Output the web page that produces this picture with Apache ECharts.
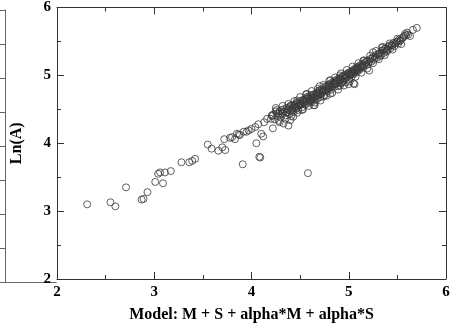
<!DOCTYPE html>
<html>
<head>
<meta charset="utf-8">
<script src="https://cdn.jsdelivr.net/npm/echarts@6/dist/echarts.min.js"></script>
<style>
html,body{margin:0;padding:0;background:#fff;}
#chart{width:457px;height:330px;}
</style>
</head>
<body>
<div id="chart"></div>
<script>
// 散点 Model vs Ln(A)
var xTicks = [2, 3, 4, 5, 6];
var yTicks = [2, 3, 4, 5, 6];

// sparse low end + outliers
var modelLow = [2.31,2.55,2.60,2.71,2.87,2.89,2.93,3.01,3.04,3.06,3.09,3.11,3.17,3.28,3.36,3.39,3.42,3.55,3.59,3.66,3.70,3.72,3.73,3.78,3.80,3.83,3.85,3.87,3.88,3.91,3.92,3.95,3.97,4.00,4.04,4.05,4.07,4.08,4.09,4.10,4.12,4.13,4.16,4.21,4.22,4.26,4.31,4.33,4.38,4.40,4.41,4.47,4.58,4.64];
var lnALow   = [3.10,3.13,3.07,3.35,3.17,3.18,3.28,3.43,3.55,3.57,3.41,3.57,3.59,3.72,3.72,3.74,3.77,3.98,3.92,3.89,3.94,4.06,3.90,4.08,4.09,4.06,4.14,4.13,4.12,3.69,4.17,4.17,4.19,4.21,4.24,4.00,4.28,3.80,3.79,4.14,4.10,4.31,4.36,4.41,4.22,4.49,4.44,4.29,4.26,4.34,4.56,4.63,3.56,4.56];

// dense band
var modelBand = [4.20,4.22,4.24,4.25,4.27,4.28,4.30,4.31,4.32,4.34,4.35,4.36,4.37,4.38,4.39,4.40,4.41,4.42,4.43,4.44,4.45,4.46,4.47,4.48,4.49,4.50,4.51,4.52,4.53,4.54,4.55,4.56,4.57,4.58,4.59,4.60,4.61,4.62,4.63,4.64,4.65,4.66,4.67,4.68,4.69,4.70,4.71,4.72,4.73,4.74,4.75,4.76,4.77,4.78,4.79,4.80,4.81,4.82,4.83,4.84,4.85,4.86,4.87,4.88,4.89,4.90,4.91,4.92,4.93,4.94,4.95,4.96,4.97,4.98,4.99,5.00,5.01,5.02,5.03,5.04,5.05,5.06,5.07,5.08,5.09,5.10,5.11,5.12,5.13,5.14,5.15,5.17,5.18,5.19,5.20,5.22,5.23,5.25,5.26,5.28,5.29,5.31,5.33,5.34,5.36,5.37,5.39,5.41,5.43,5.45,5.47,5.49,5.51,5.52,5.55,5.57,
  4.21,4.26,4.29,4.33,4.36,4.39,4.42,4.44,4.46,4.48,4.50,4.52,4.54,4.56,4.58,4.60,4.62,4.64,4.66,4.68,4.70,4.72,4.74,4.76,4.78,4.80,4.82,4.84,4.86,4.88,4.90,4.92,4.94,4.96,4.98,5.00,5.02,5.04,5.06,5.08,5.10,5.12,5.14,5.16,5.18,5.21,5.24,5.27,5.30,5.32,5.35,5.38,5.40,5.44,5.46,5.50,5.53,5.56,5.58];
var lnABand  = [4.36,4.42,4.35,4.47,4.40,4.44,4.38,4.49,4.43,4.47,4.41,4.52,4.46,4.50,4.43,4.55,4.49,4.52,4.46,4.57,4.51,4.54,4.60,4.49,4.56,4.62,4.58,4.53,4.64,4.60,4.57,4.66,4.62,4.59,4.69,4.65,4.70,4.63,4.67,4.72,4.68,4.64,4.74,4.70,4.77,4.72,4.68,4.79,4.75,4.81,4.71,4.78,4.83,4.76,4.86,4.81,4.88,4.79,4.85,4.90,4.83,4.92,4.87,4.94,4.84,4.90,4.96,4.88,4.98,4.92,4.95,5.01,4.90,4.97,5.03,4.94,5.00,5.05,4.98,5.07,5.02,5.09,5.04,5.11,5.06,5.13,5.08,5.15,5.11,5.17,5.12,5.19,5.15,5.22,5.17,5.24,5.20,5.27,5.23,5.30,5.26,5.32,5.29,5.36,5.33,5.39,5.35,5.42,5.40,5.45,5.43,5.49,5.47,5.53,5.55,5.58,
  4.40,4.44,4.47,4.50,4.45,4.53,4.48,4.53,4.58,4.55,4.56,4.61,4.64,4.61,4.66,4.61,4.71,4.67,4.73,4.66,4.78,4.73,4.77,4.84,4.80,4.86,4.83,4.87,4.89,4.91,4.94,4.95,4.99,4.96,5.01,5.04,5.01,5.03,5.06,5.08,5.10,5.12,5.14,5.16,5.20,5.21,5.25,5.27,5.31,5.33,5.37,5.40,5.38,5.44,5.48,5.50,5.51,5.56,5.61];

// outer part of the band
var modelWide = [4.25,4.28,4.32,4.35,4.38,4.41,4.44,4.47,4.50,4.53,4.56,4.59,4.62,4.65,4.68,4.71,4.74,4.77,4.80,4.83,4.86,4.89,4.92,4.95,4.98,5.01,5.04,5.07,5.10,5.13,5.16,5.19,5.22,5.25,5.28,5.31,5.34,5.37,5.42,5.45,5.50,5.54,5.60,5.63,
  4.43,4.49,4.55,4.61,4.67,4.73,4.79,4.85,4.91,4.97,5.03,5.09,4.46,4.57,4.69,4.81,4.93,5.05];
var lnAWide  = [4.52,4.33,4.55,4.36,4.58,4.40,4.62,4.45,4.68,4.50,4.72,4.55,4.77,4.60,4.80,4.63,4.86,4.70,4.92,4.74,4.97,4.79,5.03,4.85,5.08,4.91,5.13,4.98,5.18,5.04,5.22,5.10,5.29,5.18,5.36,5.24,5.41,5.30,5.47,5.38,5.54,5.46,5.63,5.58,
  4.55,4.59,4.63,4.67,4.71,4.78,4.83,4.88,4.93,4.99,5.04,5.09,4.51,4.68,4.74,4.85,4.90,5.08];

// band edges + top end
var modelHigh = [4.29,4.43,4.52,4.62,4.65,4.74,4.81,4.91,5.00,5.06,5.01,5.08,4.57,4.70,4.81,4.91,5.05,5.21,5.15,5.25,5.35,5.32,5.39,5.42,5.48,5.53,5.59,5.61,5.66,5.70];
var lnAHigh   = [4.31,4.39,4.49,4.61,4.56,4.69,4.73,4.85,4.87,4.87,5.02,5.12,4.73,4.84,4.93,5.00,4.88,5.07,5.22,5.34,5.42,5.29,5.37,5.44,5.47,5.51,5.59,5.60,5.67,5.70];

function pairs(xs, ys) {
    var out = [];
    for (var i = 0; i < xs.length; i++) out.push([xs[i], ys[i]]);
    return out;
}
var points = pairs(modelLow, lnALow)
    .concat(pairs(modelBand, lnABand))
    .concat(pairs(modelWide, lnAWide))
    .concat(pairs(modelHigh, lnAHigh));

var serif = '"Liberation Serif", "Times New Roman", serif';
var frameColor = '#333';

function frameAxis(extra) {
    var ax = {
        min: 2, max: 6, interval: 1,
        axisLine: { show: true, onZero: false, lineStyle: { color: frameColor, width: 1 } },
        axisTick: { show: true, inside: true, length: 7, lineStyle: { color: frameColor } },
        minorTick: { show: true, splitNumber: 2, length: 4, lineStyle: { color: frameColor } },
        splitLine: { show: false },
        axisLabel: { show: false }
    };
    for (var k in extra) ax[k] = extra[k];
    return ax;
}

var chart = echarts.init(document.getElementById('chart'));
var options = {
    backgroundColor: '#fff',
    animation: false,
    grid: [
        { left: 57, right: 11, top: 7, bottom: 51 },
        // edge of the neighbouring panel
        { left: -200, width: 205, top: 10, height: 272 }
    ],
    xAxis: [
        frameAxis({
            gridIndex: 0, position: 'bottom',
            axisLabel: { show: true, color: '#000', fontFamily: serif, fontWeight: 'bold', fontSize: 15, margin: 6,
                formatter: function (v) { return xTicks.indexOf(v) >= 0 ? String(v) : ''; } },
            name: 'Model: M + S + alpha*M + alpha*S',
            nameLocation: 'middle', nameGap: 28,
            nameTextStyle: { color: '#000', fontFamily: serif, fontWeight: 'bold', fontSize: 16 }
        }),
        frameAxis({ gridIndex: 0, position: 'top' }),
        { gridIndex: 1, type: 'value', min: 0, max: 1, axisLine: { show: true, lineStyle: { color: '#666' } },
          axisTick: { show: false }, axisLabel: { show: false }, splitLine: { show: false } }
    ],
    yAxis: [
        frameAxis({
            gridIndex: 0, position: 'left',
            axisLabel: { show: true, color: '#000', fontFamily: serif, fontWeight: 'bold', fontSize: 15, margin: 6,
                formatter: function (v) { return yTicks.indexOf(v) >= 0 ? String(v) : ''; } },
            name: 'Ln(A)',
            nameLocation: 'middle', nameGap: 32, nameRotate: 90,
            nameTextStyle: { color: '#000', fontFamily: serif, fontWeight: 'bold', fontSize: 16 }
        }),
        frameAxis({ gridIndex: 0, position: 'right' }),
        { gridIndex: 1, type: 'value', min: 2, max: 6, interval: 0.5, position: 'right',
          axisLine: { show: true, lineStyle: { color: '#666' } },
          axisTick: { show: true, inside: true, length: 5, lineStyle: { color: '#666' } },
          axisLabel: { show: false }, splitLine: { show: false } }
    ],
    series: [{
        type: 'scatter',
        xAxisIndex: 0,
        yAxisIndex: 0,
        symbol: 'circle',
        symbolSize: 7,
        itemStyle: {
            color: 'rgba(0,0,0,0)',
            borderColor: '#3a3a3a',
            borderWidth: 1
        },
        data: points
    }]
};
chart.setOption(options);

setTimeout(function () {
    window.onresize = function () {
        chart.resize();
    };
}, 200);
</script>
</body>
</html>
